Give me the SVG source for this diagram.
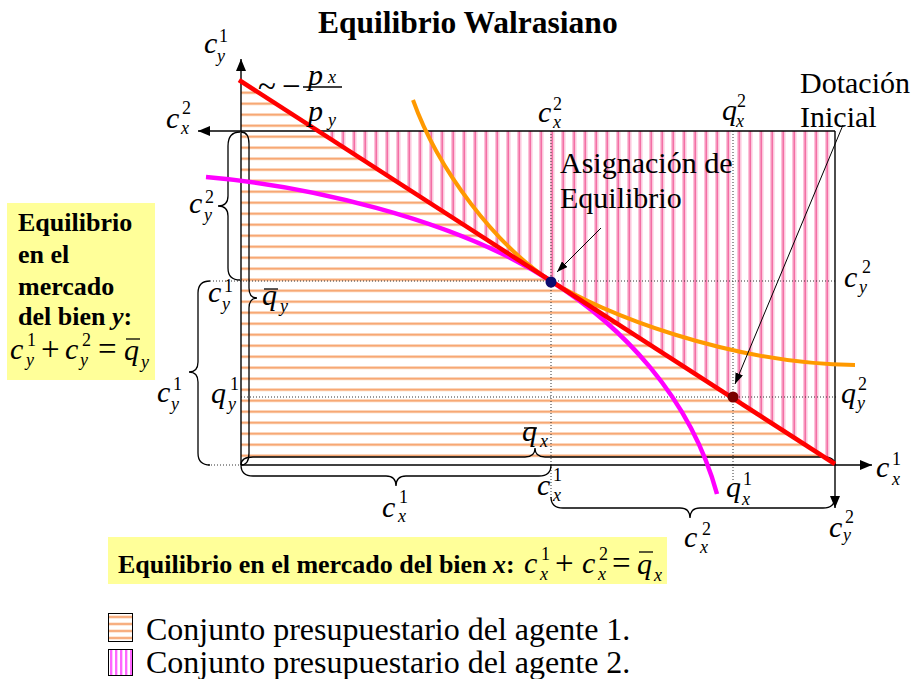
<svg xmlns="http://www.w3.org/2000/svg" width="916" height="679" viewBox="0 0 916 679">
<style>
.m{font-family:"Liberation Serif",serif;font-style:italic;font-size:30px;fill:#000}
.s{font-family:"Liberation Serif",serif;font-size:18px;fill:#000}
.si{font-family:"Liberation Serif",serif;font-style:italic;font-size:18px;fill:#000}
.t{font-family:"Liberation Serif",serif;font-size:30px;fill:#000}
.op{font-family:"Liberation Serif",serif;font-size:33px;fill:#000}
.tl{font-family:"Liberation Serif",serif;font-size:32px;fill:#000}
.b{font-family:"Liberation Serif",serif;font-weight:bold;font-size:26px;fill:#000}
.ax{stroke:#000;stroke-width:1.4;fill:none}
.br{stroke:#000;stroke-width:1.3;fill:none}
.dot{stroke:#333;stroke-width:1;stroke-dasharray:1 2;fill:none}
.bar{stroke:#000;stroke-width:1.3}
.ar{stroke:#000;stroke-width:1;fill:none}
</style>
<defs>
<marker id="ah" markerUnits="userSpaceOnUse" markerWidth="12" markerHeight="10" refX="12" refY="5" orient="auto">
<path d="M0,0 L12,5 L0,10 z" fill="#000"/>
</marker>
<marker id="as" markerUnits="userSpaceOnUse" markerWidth="11" markerHeight="8" refX="11" refY="4" orient="auto">
<path d="M0,0 L11,4 L0,8 z" fill="#000"/>
</marker>
<pattern id="po" patternUnits="userSpaceOnUse" width="20" height="11" x="0" y="3">
<rect y="0" width="20" height="3.4" fill="#fde2cf"/>
<rect y="0.8" width="20" height="1.8" fill="#f7a874"/>
</pattern>
<pattern id="pp" patternUnits="userSpaceOnUse" width="11" height="20" x="0" y="0">
<rect x="0" width="1.3" height="20" fill="#fcc3da"/>
<rect x="1.3" width="2" height="20" fill="#f36fa5"/>
<rect x="3.3" width="1.2" height="20" fill="#fcc3da"/>
</pattern>
<pattern id="lo" patternUnits="userSpaceOnUse" width="30" height="7" x="0" y="614">
<rect y="1.5" width="30" height="3" fill="#fcd3b8"/>
<rect y="2.3" width="30" height="1.4" fill="#f5a06a"/>
</pattern>
<pattern id="lp" patternUnits="userSpaceOnUse" width="5" height="30" x="109" y="0">
<rect x="1" width="2" height="30" fill="#ff66ff"/>
<rect x="3" width="1" height="30" fill="#ffc8ff"/>
</pattern>
</defs>

<rect width="916" height="679" fill="#fff"/>

<text x="318" y="33" style="font-family:'Liberation Serif',serif;font-weight:bold;font-size:31.5px">Equilibrio Walrasiano</text>

<g id="regions">
<polygon points="241,81.3 835,464 835,465 241,465" fill="url(#po)"/>
<polygon points="318,131 835,131 835,464" fill="url(#pp)"/>
</g>

<g id="guides">
<path class="dot" d="M551,131 V500"/>
<path class="dot" d="M733,131 V480"/>
<path class="dot" d="M210,281 H836"/>
<path class="dot" d="M241,397 H836"/>
<path class="dot" d="M208,465 H241"/>
</g>

<g id="axes">
<path class="ax" d="M241,465 V59" marker-end="url(#ah)"/>
<path class="ax" d="M241,465 H872" marker-end="url(#ah)"/>
<path class="ax" d="M835,131 H198" marker-end="url(#ah)"/>
<path class="ax" d="M835,131 V508" marker-end="url(#ah)"/>
</g>

<g id="braces">
<path class="br" d="M240,132 Q228,132 228,146 L228,196 Q228,206 218,206 Q228,206 228,216 L228,268 Q228,280 240,280"/>
<path class="br" d="M241,132 Q249,132 249,144 L249,288 Q249,298 257,298 Q249,298 249,308 L249,453 Q249,465 241,465"/>
<path class="br" d="M210,281 Q198,281 198,293 L198,362 Q198,372 189,372 Q198,372 198,382 L198,453 Q198,465 210,465"/>
<path class="br" d="M241,465 Q241,476 253,476 L386,476 Q396,476 396,486 Q396,476 406,476 L539,476 Q551,476 551,465"/>
<path class="br" d="M241,465 Q241,457 253,457 L525,457 Q535,457 535,448 Q535,457 545,457 L823,457 Q835,457 835,465"/>
<path class="br" d="M551,497 Q551,508 563,508 L680,508 Q690,508 690,518 Q690,508 700,508 L823,508 Q835,508 835,497"/>
</g>

<g id="curves">
<path d="M413,100 C438,170 496,245.6 551,281 C600,312.6 730,364 855,365" stroke="#ff9900" stroke-width="4" fill="none"/>
<path d="M206,177 C300,185 451,216.6 551,281 C620,325 690,395 717,494" stroke="#ff00ff" stroke-width="4.5" fill="none"/>
<path d="M239,80 L835,464" stroke="#ff0000" stroke-width="4.5" fill="none"/>
</g>

<g id="points">
<circle cx="551" cy="282" r="5.5" fill="#0c0c70"/>
<circle cx="733" cy="397" r="5.5" fill="#7a0000"/>
</g>

<g id="connectors">
<path class="ar" d="M601,228 L557,272" marker-end="url(#as)"/>
<path class="ar" d="M843,125 L735,384" marker-end="url(#as)"/>
</g>

<g id="slope">
<text class="op" x="258" y="97">~</text>
<text class="op" x="282" y="97">−</text>
<line class="bar" x1="303" y1="87" x2="342" y2="87"/>
<text class="m" x="308" y="85">p</text><text class="si" x="328" y="83">x</text>
<text class="m" x="308" y="121">p</text><text class="si" x="328" y="126">y</text>
</g>

<g id="labels">
<text class="m" x="204" y="53">c</text><text class="s" x="219" y="42">1</text><text class="si" x="217" y="62">y</text>
<text class="m" x="166" y="128">c</text><text class="s" x="182" y="114">2</text><text class="si" x="181" y="134">x</text>
<text class="m" x="538" y="122">c</text><text class="s" x="553" y="110">2</text><text class="si" x="553" y="128">x</text>
<text class="m" x="722" y="120">q</text><text class="s" x="737" y="107">2</text><text class="si" x="736" y="127">x</text>
<text class="m" x="189" y="213">c</text><text class="s" x="205" y="203">2</text><text class="si" x="204" y="221">y</text>
<text class="m" x="208" y="302">c</text><text class="s" x="224" y="292">1</text><text class="si" x="222" y="310">y</text>
<text class="m" x="262" y="305">q</text><line class="bar" x1="264" y1="289" x2="278" y2="289"/><text class="si" x="280" y="312">y</text>
<text class="m" x="157" y="402">c</text><text class="s" x="173" y="390">1</text><text class="si" x="171" y="410">y</text>
<text class="m" x="211" y="403">q</text><text class="s" x="230" y="390">1</text><text class="si" x="228" y="410">y</text>
<text class="m" x="844" y="287">c</text><text class="s" x="862" y="273">2</text><text class="si" x="859" y="293">y</text>
<text class="m" x="841" y="403">q</text><text class="s" x="858" y="390">2</text><text class="si" x="857" y="409">y</text>
<text class="m" x="876" y="477">c</text><text class="s" x="892" y="465">1</text><text class="si" x="892" y="485">x</text>
<text class="m" x="537" y="495">c</text><text class="s" x="553" y="481">1</text><text class="si" x="553" y="501">x</text>
<text class="m" x="726" y="497">q</text><text class="s" x="743" y="485">1</text><text class="si" x="742" y="505">x</text>
<text class="m" x="684" y="547">c</text><text class="s" x="702" y="535">2</text><text class="si" x="700" y="553">x</text>
<text class="m" x="829" y="537">c</text><text class="s" x="845" y="523">2</text><text class="si" x="843" y="541">y</text>
<text class="m" x="382" y="517">c</text><text class="s" x="399" y="503">1</text><text class="si" x="398" y="522">x</text>
<text class="m" x="522" y="441">q</text><line class="bar" x1="524" y1="428" x2="537" y2="428"/><text class="si" x="540" y="447">x</text>
</g>

<g id="annotations">
<text class="t" x="800" y="93">Dotación</text>
<text class="t" x="800" y="127">Inicial</text>
<text class="t" x="560" y="173">Asignación de</text>
<text class="t" x="560" y="208">Equilibrio</text>
</g>

<g id="box-y">
<rect x="7" y="203" width="148" height="177" fill="#ffff99"/>
<text class="b" x="18" y="231">Equilibrio</text>
<text class="b" x="18" y="263">en el</text>
<text class="b" x="18" y="295">mercado</text>
<text class="b" x="18" y="325">del bien <tspan font-style="italic">y</tspan>:</text>
<text class="m" x="10" y="359">c</text><text class="s" x="27" y="346">1</text><text class="si" x="26" y="366">y</text>
<text class="op" x="41" y="360">+</text>
<text class="m" x="65" y="359">c</text><text class="s" x="82" y="346">2</text><text class="si" x="80" y="366">y</text>
<text class="op" x="98" y="360">=</text>
<text class="m" x="124" y="360">q</text><line class="bar" x1="126" y1="339" x2="140" y2="339"/><text class="si" x="141" y="368">y</text>
</g>

<g id="box-x">
<rect x="108" y="537" width="559" height="47" fill="#ffff99"/>
<text class="b" x="118" y="573">Equilibrio en el mercado del bien <tspan font-style="italic">x</tspan>:</text>
<text class="m" x="524" y="573">c</text><text class="s" x="541" y="560">1</text><text class="si" x="540" y="580">x</text>
<text class="op" x="555" y="574">+</text>
<text class="m" x="582" y="573">c</text><text class="s" x="599" y="560">2</text><text class="si" x="598" y="580">x</text>
<text class="op" x="612" y="574">=</text>
<text class="m" x="637" y="574">q</text><line class="bar" x1="639" y1="552" x2="653" y2="552"/><text class="si" x="654" y="581">x</text>
</g>

<g id="legend">
<rect x="108.5" y="613.5" width="24" height="28" fill="url(#lo)" stroke="#000" stroke-width="1"/>
<text class="tl" x="146" y="640">Conjunto presupuestario del agente 1.</text>
<rect x="108.5" y="649.5" width="24" height="26" fill="url(#lp)" stroke="#000" stroke-width="1"/>
<text class="tl" x="146" y="673">Conjunto presupuestario del agente 2.</text>
</g>
</svg>
